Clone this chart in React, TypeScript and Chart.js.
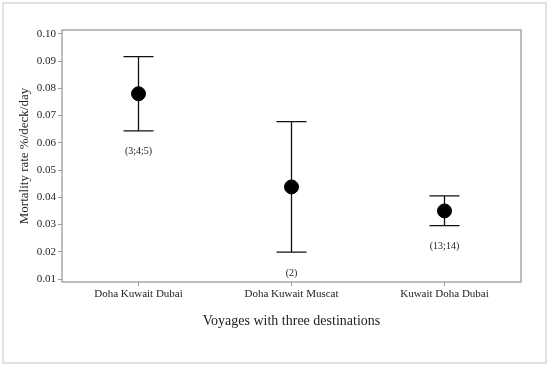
import React, { useEffect, useRef } from "react";
import { Chart, registerables } from "chart.js";

Chart.register(...registerables);

const categories = ["Doha Kuwait Dubai", "Doha Kuwait Muscat", "Kuwait Doha Dubai"];
const means = [0.078, 0.0438, 0.035];
const lowers = [0.0644, 0.0199, 0.0296];
const uppers = [0.0916, 0.0678, 0.0405];
const groupLabels = ["(3;4;5)", "(2)", "(13;14)"];
const yTitle = "Mortality rate %/deck/day";
const xTitle = "Voyages with three destinations";

const FONT = "'Liberation Serif', 'Times New Roman', serif";

const framePlugin = {
  id: "frame",
  beforeDraw(chart: any) {
    const { ctx, chartArea } = chart;
    ctx.save();
    ctx.fillStyle = "#ffffff";
    ctx.fillRect(0, 0, chart.width, chart.height);
    ctx.strokeStyle = "#d9d9d9";
    ctx.lineWidth = 1.5;
    ctx.strokeRect(3, 3, 543, 360);
    ctx.strokeStyle = "#a8a8a8";
    ctx.lineWidth = 1.5;
    ctx.strokeRect(chartArea.left, chartArea.top, chartArea.right - chartArea.left, chartArea.bottom - chartArea.top);
    ctx.restore();
  },
};

const errorBarPlugin = {
  id: "errorBars",
  beforeDatasetsDraw(chart: any) {
    const { ctx } = chart;
    const x = chart.scales.x;
    const y = chart.scales.y;
    ctx.save();
    ctx.strokeStyle = "#111111";
    ctx.lineWidth = 1.3;
    for (let i = 0; i < categories.length; i++) {
      const px = x.getPixelForValue(i);
      const pl = y.getPixelForValue(lowers[i]);
      const pu = y.getPixelForValue(uppers[i]);
      ctx.beginPath();
      ctx.moveTo(px, pu);
      ctx.lineTo(px, pl);
      ctx.moveTo(px - 15, pu);
      ctx.lineTo(px + 15, pu);
      ctx.moveTo(px - 15, pl);
      ctx.lineTo(px + 15, pl);
      ctx.stroke();
    }
    ctx.fillStyle = "#222222";
    ctx.font = `10px ${FONT}`;
    ctx.textAlign = "center";
    ctx.textBaseline = "middle";
    for (let i = 0; i < categories.length; i++) {
      const px = x.getPixelForValue(i);
      const pl = y.getPixelForValue(lowers[i]);
      ctx.fillText(groupLabels[i], px, pl + 21);
    }
    ctx.restore();
  },
};

export default function App() {
  const ref = useRef<HTMLCanvasElement | null>(null);
  useEffect(() => {
    if (!ref.current) return;
    const chart = new Chart(ref.current, {
      type: "line",
      data: {
        labels: categories,
        datasets: [
          {
            data: means,
            showLine: false,
            pointRadius: 7,
            pointHoverRadius: 7,
            pointBackgroundColor: "#000000",
            pointBorderColor: "#000000",
            borderColor: "#000000",
          },
        ],
      },
      plugins: [framePlugin, errorBarPlugin],
      options: {
        responsive: false,
        animation: false,
        devicePixelRatio: 1,
        layout: { padding: { left: 0, top: 30, right: 29, bottom: 0 } },
        plugins: { legend: { display: false }, tooltip: { enabled: false } },
        scales: {
          x: {
            type: "category",
            offset: true,
            grid: { offset: false, drawOnChartArea: false, drawTicks: true, tickLength: 4, color: "#999999" },
            border: { display: false },
            ticks: { color: "#222222", font: { family: FONT, size: 11 }, padding: 2, maxRotation: 0 },
            title: {
              display: true,
              text: xTitle,
              color: "#222222",
              font: { family: FONT, size: 14 },
              padding: { top: 0, bottom: 39 },
            },
            afterFit(scale: any) {
              scale.height = 87;
            },
          },
          y: {
            type: "linear",
            min: 0.0089,
            max: 0.1014,
            grid: { drawOnChartArea: false, drawTicks: true, tickLength: 4, color: "#999999" },
            border: { display: false },
            ticks: {
              stepSize: 0.01,
              includeBounds: false,
              color: "#222222",
              font: { family: FONT, size: 11 },
              padding: 2,
              callback: (v: any) => Number(v).toFixed(2),
            },
            title: {
              display: true,
              text: yTitle,
              color: "#222222",
              font: { family: FONT, size: 13 },
              padding: { top: 17, bottom: 0 },
            },
            afterFit(scale: any) {
              scale.width = 62;
            },
          },
        },
      },
    });
    return () => chart.destroy();
  }, []);
  return (
    <div style={{ position: "fixed", left: 0, top: 0, width: 550, height: 369, background: "#fff" }}>
      <canvas ref={ref} width={550} height={369} style={{ width: 550, height: 369 }} />
    </div>
  );
}
